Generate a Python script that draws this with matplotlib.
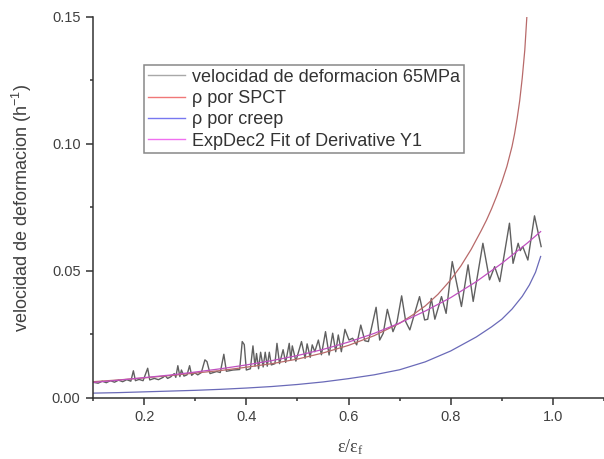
import matplotlib
matplotlib.use('Agg')
import matplotlib.pyplot as plt
from matplotlib.lines import Line2D
from matplotlib.ticker import MultipleLocator, FormatStrFormatter

plt.rcParams['font.family'] = ['Liberation Sans', 'DejaVu Sans']
plt.rcParams['mathtext.fontset'] = 'custom'
plt.rcParams['mathtext.rm'] = 'Liberation Sans'
plt.rcParams['mathtext.it'] = 'Liberation Sans:italic'

vel_x = [0.100, 0.110, 0.118, 0.126, 0.134, 0.142, 0.150, 0.158, 0.166, 0.174,
         0.179, 0.183, 0.190, 0.198, 0.207, 0.211, 0.220, 0.228, 0.237, 0.241,
         0.246, 0.252, 0.259, 0.262, 0.266, 0.270, 0.273, 0.278, 0.284, 0.289,
         0.293, 0.299, 0.305, 0.312, 0.319, 0.323, 0.329, 0.342, 0.349, 0.356,
         0.361, 0.374, 0.387, 0.392, 0.396, 0.400, 0.408, 0.413, 0.417, 0.420,
         0.424, 0.428, 0.433, 0.437, 0.441, 0.445, 0.449, 0.456, 0.460, 0.465,
         0.472, 0.477, 0.484, 0.487, 0.490, 0.497, 0.508, 0.515, 0.519, 0.525,
         0.529, 0.534, 0.541, 0.547, 0.555, 0.562, 0.569, 0.575, 0.580, 0.586,
         0.593, 0.601, 0.608, 0.616, 0.624, 0.632, 0.639, 0.654, 0.661, 0.668,
         0.676, 0.687, 0.695, 0.704, 0.712, 0.720, 0.739, 0.749, 0.755, 0.762,
         0.769, 0.782, 0.791, 0.803, 0.821, 0.834, 0.844, 0.863, 0.876, 0.886,
         0.896, 0.915, 0.922, 0.932, 0.936, 0.941, 0.951, 0.964, 0.977]
vel_y = [0.0062, 0.0058, 0.0066, 0.0060, 0.0068, 0.0062, 0.0070, 0.0064, 0.0072, 0.0066,
         0.0107, 0.0068, 0.0073, 0.0068, 0.0117, 0.0071, 0.0077, 0.0072, 0.0081, 0.0088,
         0.0077, 0.0083, 0.0096, 0.0081, 0.0127, 0.0084, 0.0110, 0.0086, 0.0091, 0.0127,
         0.0089, 0.0099, 0.0091, 0.0100, 0.0150, 0.0143, 0.0096, 0.0104, 0.0100, 0.0172,
         0.0105, 0.0110, 0.0112, 0.0222, 0.0210, 0.0110, 0.0115, 0.0205, 0.0125, 0.0175,
         0.0115, 0.0180, 0.0122, 0.0180, 0.0125, 0.0180, 0.0130, 0.0135, 0.0215, 0.0135,
         0.0190, 0.0140, 0.0215, 0.0150, 0.0205, 0.0145, 0.0222, 0.0156, 0.0213, 0.0160,
         0.0209, 0.0182, 0.0228, 0.0170, 0.0261, 0.0169, 0.0255, 0.0182, 0.0248, 0.0182,
         0.0270, 0.0228, 0.0235, 0.0209, 0.0287, 0.0225, 0.0222, 0.0357, 0.0228, 0.0255,
         0.0349, 0.0261, 0.0300, 0.0402, 0.0300, 0.0268, 0.0399, 0.0307, 0.0310, 0.0392,
         0.0310, 0.0399, 0.0333, 0.0537, 0.0360, 0.0524, 0.0380, 0.0609, 0.0465, 0.0517,
         0.0458, 0.0688, 0.0530, 0.0609, 0.0580, 0.0596, 0.0543, 0.0717, 0.0596]

# rho por SPCT
spct_x = [0.10, 0.15, 0.20, 0.25, 0.30, 0.35, 0.40, 0.45, 0.50, 0.55, 0.60, 0.65,
          0.70, 0.725, 0.75, 0.775, 0.80, 0.82, 0.84, 0.86, 0.87, 0.88, 0.89, 0.90,
          0.91, 0.92, 0.925, 0.93, 0.935, 0.94, 0.945, 0.949]
spct_y = [0.0064, 0.0071, 0.0079, 0.0088, 0.0098, 0.0108, 0.0121, 0.0135, 0.0153,
          0.0177, 0.0207, 0.0245, 0.0294, 0.0326, 0.0362, 0.0408, 0.0465, 0.0520,
          0.0585, 0.0660, 0.0700, 0.0745, 0.0795, 0.0850, 0.0912, 0.0990, 0.1040,
          0.1100, 0.1170, 0.1260, 0.1370, 0.1500]

# rho por creep
creep_x = [0.10, 0.15, 0.20, 0.25, 0.30, 0.35, 0.40, 0.45, 0.50, 0.55, 0.60, 0.65,
           0.70, 0.75, 0.80, 0.85, 0.88, 0.90, 0.92, 0.94, 0.954, 0.966, 0.976]
creep_y = [0.0019, 0.0021, 0.0024, 0.0027, 0.0030, 0.0034, 0.0039, 0.0045, 0.0053,
           0.0063, 0.0076, 0.0091, 0.0111, 0.0142, 0.0185, 0.0240, 0.0280, 0.0310,
           0.0350, 0.0400, 0.0445, 0.0495, 0.0557]

# ExpDec2 fit
fit_x = [0.10, 0.15, 0.20, 0.25, 0.30, 0.35, 0.40, 0.45, 0.50, 0.55, 0.60, 0.65,
         0.70, 0.75, 0.80, 0.85, 0.90, 0.95, 0.976]
fit_y = [0.0061, 0.0070, 0.0080, 0.0090, 0.0102, 0.0115, 0.0130, 0.0147, 0.0167,
         0.0191, 0.0220, 0.0254, 0.0295, 0.0342, 0.0395, 0.0458, 0.0530, 0.0610, 0.0655]

labels = ['velocidad de deformacion 65MPa', 'ρ por SPCT',
          'ρ por creep', 'ExpDec2 Fit of Derivative Y1']

fig = plt.figure(figsize=(6.04, 4.59), dpi=100)
ax = fig.add_axes([0.154, 0.133, 0.846, 0.830])

ax.plot(vel_x, vel_y, color='#606060', lw=1.0)
ax.plot(spct_x, spct_y, color='#b86a6a', lw=0.9)
ax.plot(creep_x, creep_y, color='#6a6ab8', lw=0.9)
ax.plot(fit_x, fit_y, color='#c050c0', lw=0.9)

ax.set_xlim(0.1, 1.1)
ax.set_ylim(0.0, 0.15)

ax.xaxis.set_major_locator(MultipleLocator(0.2))
ax.xaxis.set_minor_locator(MultipleLocator(0.1))
ax.yaxis.set_major_locator(MultipleLocator(0.05))
ax.yaxis.set_minor_locator(MultipleLocator(0.025))
ax.xaxis.set_major_formatter(FormatStrFormatter('%.1f'))
ax.yaxis.set_major_formatter(FormatStrFormatter('%.2f'))

for s in ['top', 'right']:
    ax.spines[s].set_visible(False)
for s in ['left', 'bottom']:
    ax.spines[s].set_linewidth(1.1)
    ax.spines[s].set_color('#333333')

ax.tick_params(which='major', direction='out', length=5, width=1.1,
               color='#333333', labelsize=10.5, labelcolor='#404040', pad=4)
ax.tick_params(which='minor', direction='out', length=2.5, width=1.1,
               color='#333333')

ax.set_ylabel(r'velocidad de deformacion (h$^{\mathregular{-1}}$)',
              fontsize=13, color='#404040', va='center')
ax.yaxis.set_label_coords(-0.139, 0.5)
ax.set_xlabel(r'$\mathregular{ε/ε_f}$', fontsize=13, color='#404040',
              family='Liberation Serif', va='center')
ax.xaxis.set_label_coords(0.503, -0.128)

# legend with lighter handle colours, as in the original
handles = [Line2D([], [], color='#a8a8a8', lw=1.0),
           Line2D([], [], color='#f07878', lw=1.0),
           Line2D([], [], color='#7878f0', lw=1.0),
           Line2D([], [], color='#f070f0', lw=1.0)]
leg = ax.legend(handles, labels, loc='upper left', bbox_to_anchor=(0.0998, 0.874),
                borderaxespad=0, fontsize=13, fancybox=False, framealpha=1,
                edgecolor='#888888', handlelength=2.05, handletextpad=0.42,
                labelspacing=0.24, borderpad=0.2)
leg.get_frame().set_linewidth(1.1)
for t in leg.get_texts():
    t.set_color('#333333')

fig.savefig('out.png', dpi=100)
